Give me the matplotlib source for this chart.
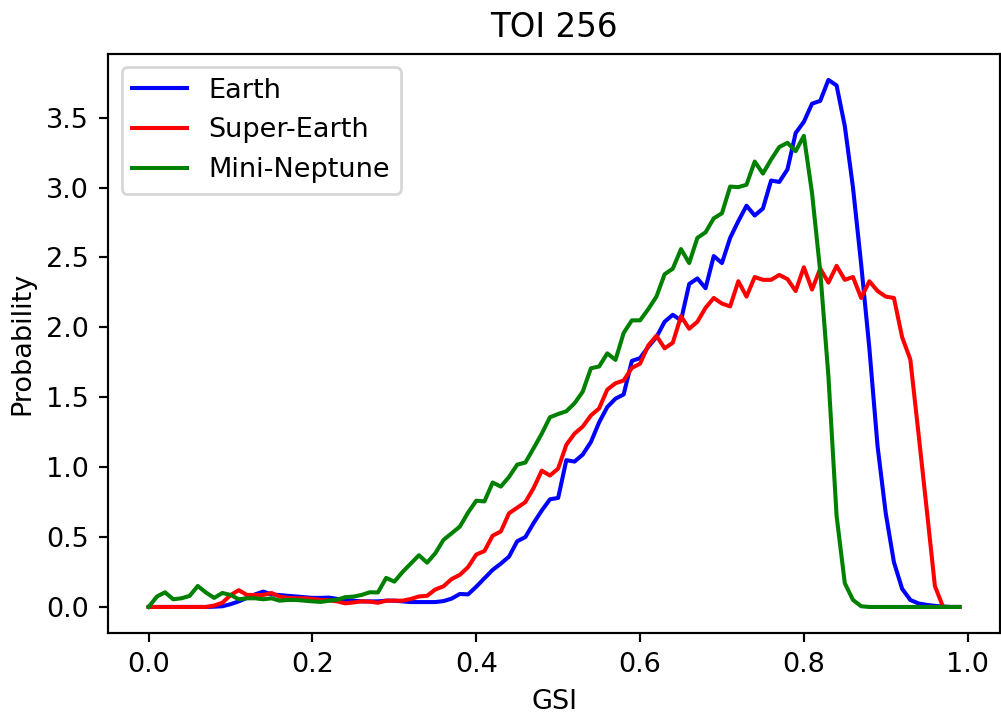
import numpy as np
import matplotlib
matplotlib.use('Agg')
import matplotlib.pyplot as plt

# GSI grid, 0.00 .. 0.99
gsi = np.arange(100) / 100

earth = [0, 0, 0, 0, 0, 0, 0, 0, 0.002, 0.005,
         0.02, 0.04, 0.065, 0.09, 0.11, 0.09, 0.085, 0.08, 0.075, 0.07,
         0.065, 0.065, 0.067, 0.058, 0.05, 0.045, 0.04, 0.04, 0.04, 0.045,
         0.045, 0.04, 0.035, 0.035, 0.035, 0.035, 0.042, 0.06, 0.093, 0.09,
         0.145, 0.205, 0.265, 0.31, 0.36, 0.47, 0.50, 0.60, 0.69, 0.77,
         0.78, 1.05, 1.04, 1.09, 1.18, 1.32, 1.43, 1.49, 1.52, 1.76,
         1.78, 1.86, 1.93, 2.04, 2.09, 2.05, 2.31, 2.35, 2.28, 2.51,
         2.46, 2.64, 2.76, 2.87, 2.80, 2.85, 3.05, 3.04, 3.13, 3.39,
         3.47, 3.60, 3.62, 3.77, 3.73, 3.44, 3.0, 2.45, 1.85, 1.15,
         0.67, 0.32, 0.13, 0.05, 0.025, 0.015, 0.008, 0.003, 0, 0]

super_earth = [0, 0, 0, 0, 0, 0, 0, 0, 0.01, 0.03,
               0.085, 0.12, 0.086, 0.086, 0.086, 0.1, 0.074, 0.065, 0.062, 0.062,
               0.058, 0.05, 0.048, 0.04, 0.026, 0.032, 0.04, 0.038, 0.03, 0.045,
               0.045, 0.045, 0.057, 0.075, 0.08, 0.125, 0.148, 0.2, 0.23, 0.285,
               0.375, 0.40, 0.51, 0.54, 0.67, 0.71, 0.75, 0.85, 0.975, 0.94,
               0.99, 1.16, 1.24, 1.29, 1.37, 1.42, 1.555, 1.60, 1.62, 1.71,
               1.74, 1.87, 1.94, 1.85, 1.89, 2.08, 1.99, 2.04, 2.14, 2.21,
               2.17, 2.15, 2.33, 2.22, 2.36, 2.34, 2.34, 2.375, 2.345, 2.26,
               2.43, 2.27, 2.42, 2.32, 2.44, 2.34, 2.36, 2.21, 2.33, 2.26,
               2.22, 2.21, 1.93, 1.77, 1.24, 0.7, 0.15, 0.0, 0, 0]

mini_neptune = [0, 0.074, 0.105, 0.055, 0.062, 0.079, 0.15, 0.103, 0.065, 0.1,
                0.086, 0.055, 0.062, 0.062, 0.055, 0.062, 0.045, 0.05, 0.05, 0.045,
                0.04, 0.036, 0.044, 0.052, 0.07, 0.074, 0.086, 0.105, 0.104, 0.208,
                0.181, 0.25, 0.31, 0.37, 0.317, 0.384, 0.48, 0.527, 0.575, 0.675,
                0.76, 0.755, 0.89, 0.861, 0.93, 1.018, 1.033, 1.135, 1.24, 1.357,
                1.38, 1.40, 1.457, 1.54, 1.707, 1.72, 1.814, 1.767, 1.96, 2.05,
                2.05, 2.13, 2.22, 2.38, 2.42, 2.56, 2.46, 2.64, 2.68, 2.78,
                2.816, 3.007, 3.003, 3.02, 3.186, 3.10, 3.2, 3.29, 3.32, 3.26,
                3.37, 2.96, 2.4, 1.65, 0.65, 0.17, 0.05, 0.005, 0, 0,
                0, 0, 0, 0, 0, 0, 0, 0, 0, 0]

DPI = 195
fig = plt.figure(figsize=(1001 / DPI, 714 / DPI), dpi=DPI)
ax = fig.add_axes([0.108, 0.113, 0.891, 0.812])

ax.plot(gsi, earth, color='blue', label='Earth')
ax.plot(gsi, super_earth, color='red', label='Super-Earth')
ax.plot(gsi, mini_neptune, color='green', label='Mini-Neptune')

ax.set_title('TOI 256')
ax.set_xlabel('GSI')
ax.set_ylabel('Probability')
ax.legend(loc='upper left')

fig.savefig('out.png', dpi=DPI)
